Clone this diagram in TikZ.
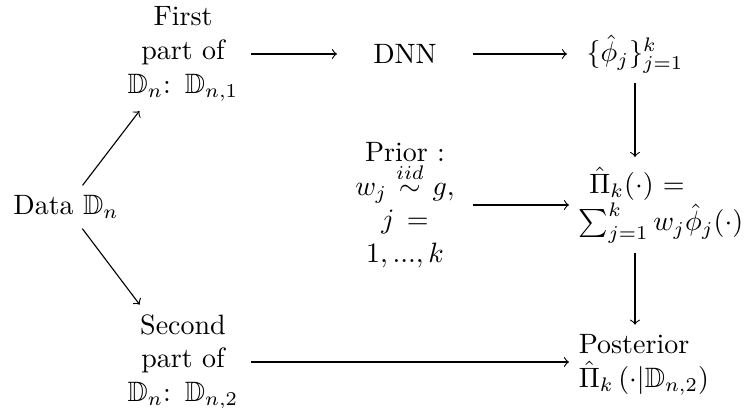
\documentclass[tikz,border=0pt]{standalone}
\usepackage{amsmath,amssymb}
\begin{document}
\begin{tikzpicture}[x=0.3571pt,y=-0.3571pt,
  cell/.style={text width=41.5pt, align=center, inner sep=0.333em},
  plain/.style={inner sep=0.333em},
  arr/.style={->}]
\useasboundingbox (0,0) rectangle (744,408);
\node[plain] (data) at (66,207) {Data $\mathbb{D}_n$};
\node[cell] (first) at (183,54) {First\\ part of\\ $\mathbb{D}_n$: $\mathbb{D}_{n,1}$};
\node[cell] (dnn) at (405,54) {DNN};
\node[cell] (phi) at (635,54) {$\{\hat{\phi}_j\}_{j=1}^k$};
\node[cell] (prior) at (405,205) {Prior :\\ $w_j \overset{iid}{\sim} g,$\\ $j =$\\ $1,...,k$};
\node[cell] (pihat) at (637,205) {$\hat{\Pi}_k(\cdot) =$\\ $\sum_{j=1}^k w_j\hat{\phi}_j(\cdot)$};
\node[cell] (second) at (183,362) {Second\\ part of\\ $\mathbb{D}_n$: $\mathbb{D}_{n,2}$};
\node[cell, align=left] (post) at (637,365) {Posterior\\ $\hat{\Pi}_k\left(\cdot|\mathbb{D}_{n,2}\right)$};
\draw[arr] (data) -- (first);
\draw[arr] (data) -- (second);
\draw[arr] (first) -- (dnn);
\draw[arr] (dnn) -- (phi);
\draw[arr] (phi) -- (phi |- pihat.north);
\draw[arr] (prior) -- (pihat);
\draw[arr] (pihat.south -| phi) -- (post.north -| phi);
\draw[arr] (second.east) -- (second.east -| post.west);
\end{tikzpicture}
\end{document}
